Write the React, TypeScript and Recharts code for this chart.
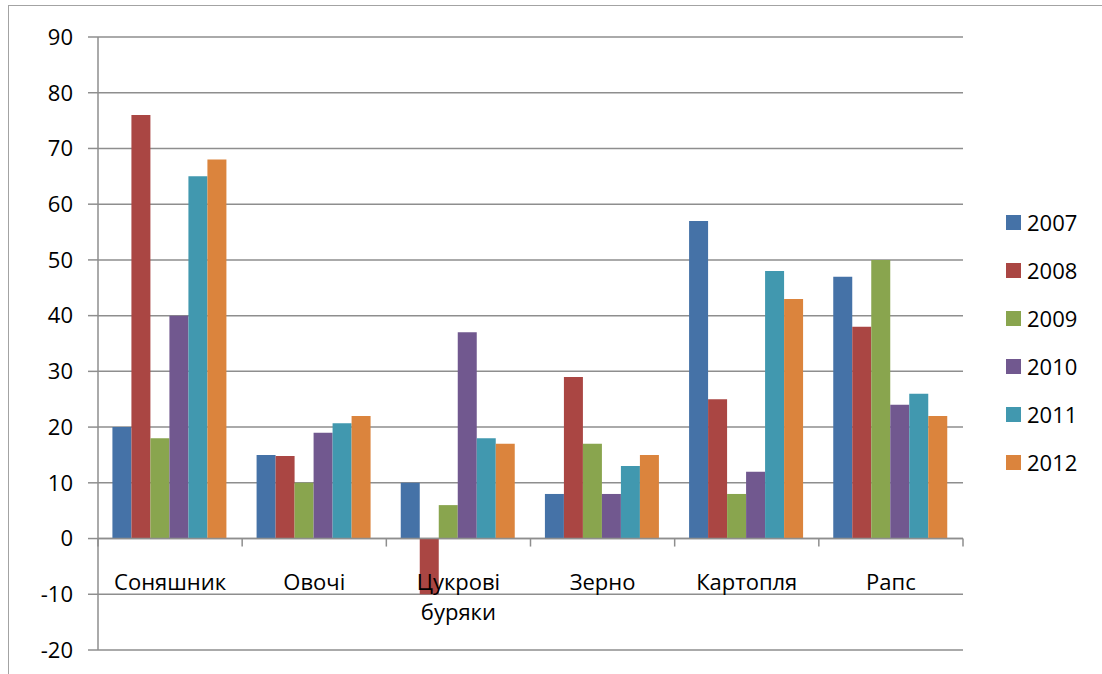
import { BarChart, Bar, XAxis, YAxis, CartesianGrid, ReferenceLine } from 'recharts';

// Crops along the category axis
const crops = ['Соняшник', 'Овочі', 'Цукрові буряки', 'Зерно', 'Картопля', 'Рапс'];

// One series per year
const years = ['2007', '2008', '2009', '2010', '2011', '2012'];
const colors = ['#4572A7', '#AA4643', '#89A54E', '#71588F', '#4198AF', '#DB843D'];

const v2007 = [20, 15, 10, 8, 57, 47];
const v2008 = [76, 14.8, -10, 29, 25, 38];
const v2009 = [18, 10, 6, 17, 8, 50];
const v2010 = [40, 19, 37, 8, 12, 24];
const v2011 = [65, 20.7, 18, 13, 48, 26];
const v2012 = [68, 22, 17, 15, 43, 22];
const seriesValues = [v2007, v2008, v2009, v2010, v2011, v2012];

const yTicks = [-20, -10, 0, 10, 20, 30, 40, 50, 60, 70, 80, 90];

const data = crops.map((crop, i) => {
  const row: any = { crop };
  years.forEach((y, s) => {
    row[y] = seriesValues[s][i];
  });
  return row;
});

const FONT = '"Open Sans", "Noto Sans", sans-serif';
const W = 1102;
const H = 674;
const MARGIN = { top: 37, right: 139, bottom: 0, left: 0 };
const Y_AXIS_W = 98;
const X_AXIS_H = 24;
const PLOT_W = W - MARGIN.left - MARGIN.right - Y_AXIS_W;
const PLOT_H = H - MARGIN.top - MARGIN.bottom - X_AXIS_H;
const Y_MIN = yTicks[0];
const Y_MAX = yTicks[yTicks.length - 1];
const GRID = '#8e8e8e';

// Category labels sit just under the zero line, with tick marks between categories
function CropTick(props: any) {
  const { x, y, payload, index } = props;
  const zeroY = y - ((0 - Y_MIN) / (Y_MAX - Y_MIN)) * PLOT_H;
  const band = PLOT_W / crops.length;
  const words = String(payload.value).split(' ');
  return (
    <g>
      <line x1={x - band / 2} x2={x - band / 2} y1={zeroY} y2={zeroY + 8} stroke={GRID} strokeWidth={1.5} />
      {index === crops.length - 1 && (
        <line x1={x + band / 2} x2={x + band / 2} y1={zeroY} y2={zeroY + 8} stroke={GRID} strokeWidth={1.5} />
      )}
      <text x={x} y={zeroY + 51} textAnchor="middle" fontFamily={FONT} fontSize={22} fill="#000">
        {words.map((w, i) => (
          <tspan key={w} x={x} dy={i === 0 ? 0 : 30}>
            {w}
          </tspan>
        ))}
      </text>
    </g>
  );
}

export default function App() {
  return (
    <div
      style={{
        position: 'absolute',
        left: 0,
        top: 0,
        width: W,
        height: H,
        overflow: 'hidden',
        background: '#fff',
        fontFamily: FONT,
      }}
    >
      <div
        style={{
          position: 'absolute',
          left: 8,
          top: 5,
          width: 1200,
          height: 800,
          border: '1.5px solid #a3a3a3',
        }}
      />
      <div style={{ position: 'absolute', left: 0, top: 0 }}>
        <BarChart width={W} height={H} data={data} margin={MARGIN} barCategoryGap="10%" barGap={0}>
          <CartesianGrid vertical={false} stroke={GRID} strokeWidth={1.5} />
          <YAxis
            width={Y_AXIS_W}
            domain={[Y_MIN, Y_MAX]}
            ticks={yTicks}
            interval={0}
            axisLine={{ stroke: GRID, strokeWidth: 1.5 }}
            tickLine={{ stroke: GRID, strokeWidth: 1.5 }}
            tickSize={10}
            tickMargin={15}
            tick={{ fontFamily: FONT, fontSize: 22, fill: '#000' }}
          />
          <XAxis
            dataKey="crop"
            height={X_AXIS_H}
            axisLine={false}
            tickLine={false}
            tickSize={0}
            tickMargin={0}
            interval={0}
            tick={<CropTick />}
          />
          {years.map((y, s) => (
            <Bar key={y} dataKey={y} fill={colors[s]} isAnimationActive={false} />
          ))}
          <ReferenceLine y={0} stroke={GRID} strokeWidth={1.5} />
        </BarChart>
      </div>
      <div style={{ position: 'absolute', left: 1006, top: 198 }}>
        {years.map((y, s) => (
          <div key={y} style={{ height: 48, display: 'flex', alignItems: 'center' }}>
            <div style={{ width: 15, height: 15, background: colors[s], marginRight: 6 }} />
            <span style={{ fontSize: 22, color: '#000', lineHeight: 1 }}>{y}</span>
          </div>
        ))}
      </div>
    </div>
  );
}
